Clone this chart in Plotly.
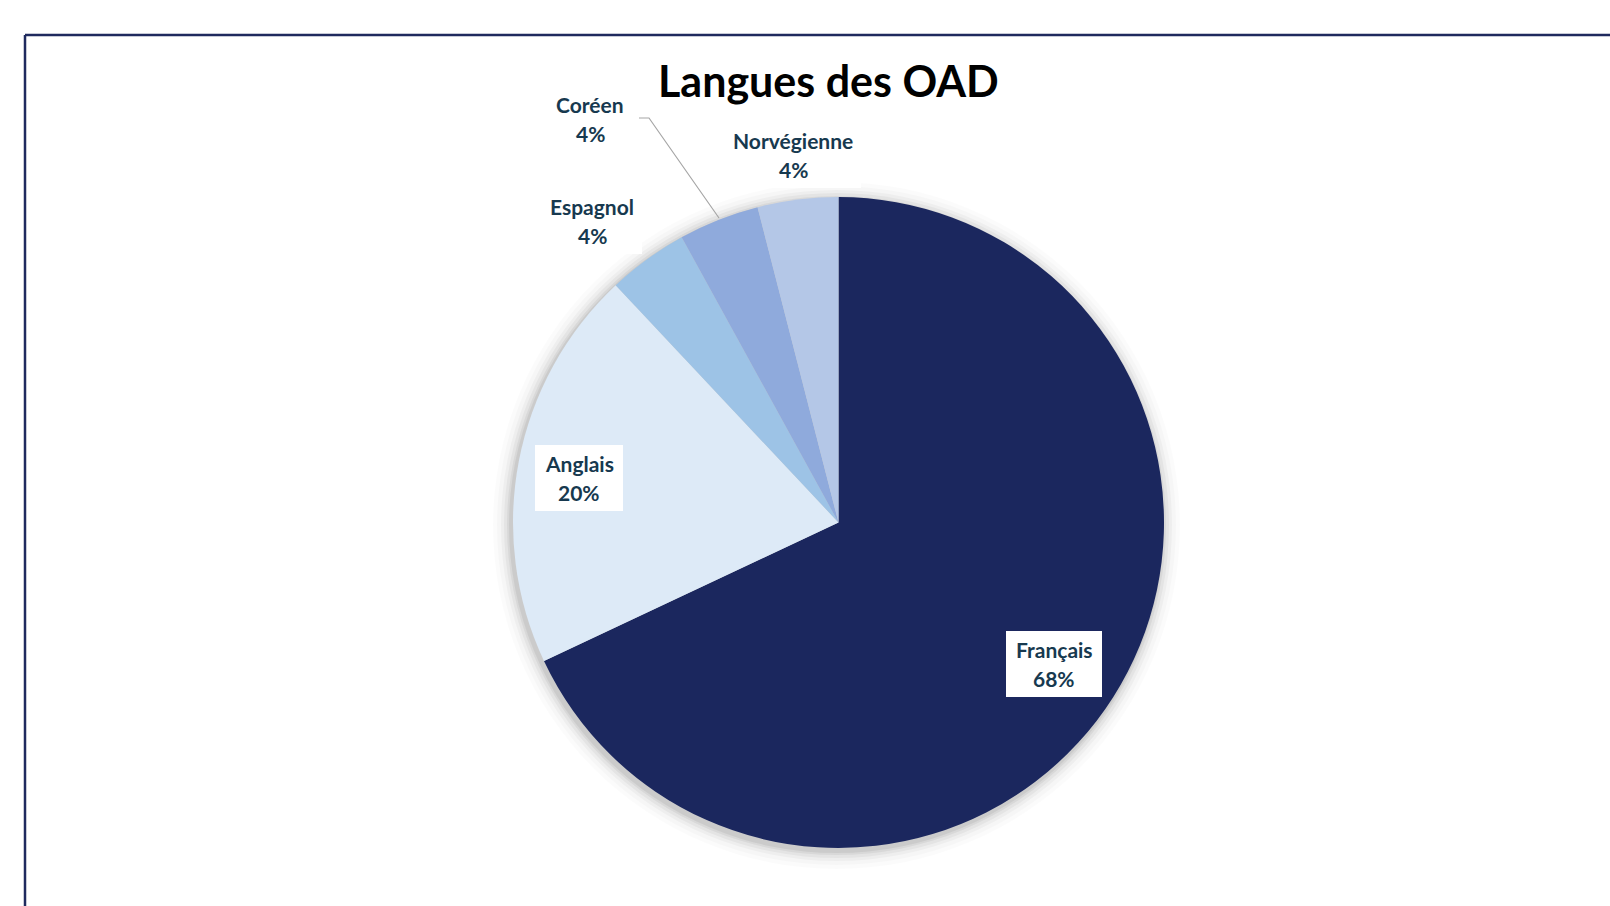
import plotly.graph_objects as go

# ---- data ----
categories = ["Français", "Anglais", "Espagnol", "Coréen", "Norvégienne"]
counts = [17, 5, 1, 1, 1]
colors = ["#1B275E", "#DDEAF7", "#9DC3E6", "#8FAADC", "#B4C7E7"]

# label layout (pixel centres in the 1610x906 canvas)
label_x = [1054, 579, 592, 590, 793]
label_y = [664, 478, 221, 119, 155]
box_w = [96, 88, 100, 84, 136]

W, H = 1610, 906
TXT = "#17394F"
FONT = "Lato"

total = sum(counts)
pcts = [round(100 * c / total) for c in counts]

fig = go.Figure()

# pie geometry
cx, cy, r = 838.5, 522.5, 325.5

fig.add_trace(go.Pie(
    labels=categories, values=counts, sort=False, direction="clockwise",
    rotation=0, marker=dict(colors=colors, line=dict(width=0)),
    textinfo="none", hoverinfo="label+percent", showlegend=False,
    domain=dict(x=[(cx - r) / W, (cx + r) / W], y=[1 - (cy + r) / H, 1 - (cy - r) / H]),
))

shapes = []
# soft shadow behind pie
for grow, op in [(18, 0.015), (14, 0.02), (10, 0.03), (7, 0.04), (4, 0.05), (2, 0.06)]:
    rr = r + grow
    ox, oy = -2, 3
    shapes.append(dict(type="circle", xref="paper", yref="paper", layer="below",
                       x0=(cx + ox - rr) / W, x1=(cx + ox + rr) / W,
                       y0=1 - (cy + oy + rr) / H, y1=1 - (cy + oy - rr) / H,
                       fillcolor=f"rgba(0,0,0,{op})", line=dict(width=0)))

# border frame
shapes.append(dict(type="line", xref="paper", yref="paper", x0=25 / W, x1=1.01,
                   y0=1 - 35 / H, y1=1 - 35 / H, line=dict(color="#1F2A5E", width=2.5)))
shapes.append(dict(type="line", xref="paper", yref="paper", x0=25 / W, x1=25 / W,
                   y0=1 - 35 / H, y1=-0.01, line=dict(color="#1F2A5E", width=2.5)))

# leader line for Coréen
shapes.append(dict(type="path", xref="paper", yref="paper",
                   path=f"M {639/W},{1-118/H} L {649/W},{1-118/H} L {719/W},{1-218/H}",
                   line=dict(color="#A6A6A6", width=1.2)))

annotations = []
for name, p, x, y, bw in zip(categories, pcts, label_x, label_y, box_w):
    if name != "Coréen":
        shapes.append(dict(type="rect", xref="paper", yref="paper", layer="above",
                           x0=(x - bw / 2) / W, x1=(x + bw / 2) / W,
                           y0=1 - (y + 33) / H, y1=1 - (y - 33) / H,
                           fillcolor="white", line=dict(width=0)))
    annotations.append(dict(text=f"<b>{name}</b>", x=x / W, y=1 - (y - 14.5) / H,
                            xref="paper", yref="paper", showarrow=False,
                            font=dict(family=FONT, size=21, color=TXT),
                            xanchor="center", yanchor="middle"))
    annotations.append(dict(text=f"<b>{p}%</b>", x=x / W, y=1 - (y + 14.5) / H,
                            xref="paper", yref="paper", showarrow=False,
                            font=dict(family=FONT, size=21, color=TXT),
                            xanchor="center", yanchor="middle"))

annotations.append(dict(text="<b>Langues des OAD</b>", x=829 / W, y=1 - 80 / H,
                        xref="paper", yref="paper", showarrow=False,
                        font=dict(family=FONT, size=43, color="#000000"),
                        xanchor="center", yanchor="middle"))

fig.update_layout(width=W, height=H, margin=dict(l=0, r=0, t=0, b=0),
                  paper_bgcolor="white", plot_bgcolor="white",
                  shapes=shapes, annotations=annotations)

fig.write_html("out.html", config={"displayModeBar": False},
               post_script="document.body.style.margin='0';")
